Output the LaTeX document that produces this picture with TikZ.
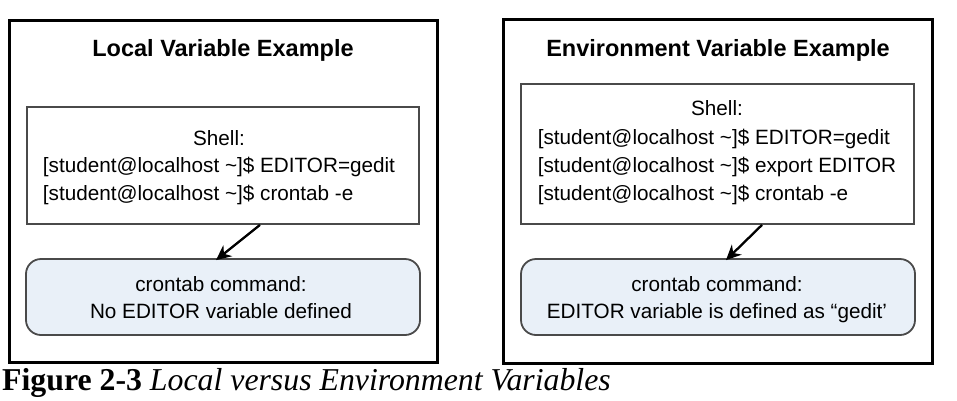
\documentclass[tikz,border=0pt]{standalone}
\usepackage{fontspec}
\setmainfont{Liberation Sans}
\newfontfamily\capfont{Liberation Serif}
\usetikzlibrary{arrows.meta,calc}

\definecolor{cronfill}{HTML}{E9F0F8}
\definecolor{boxline}{HTML}{4A4A4A}

\tikzset{
  panel/.style={draw=black, line width=3pt, inner sep=0pt},
  shellbox/.style={draw=boxline, line width=1.8pt, inner sep=0pt},
  cronbox/.style={draw=boxline, line width=1.8pt, fill=cronfill, rounded corners=15pt,
    minimum width=394pt, minimum height=76pt, inner sep=0pt},
  paneltitle/.style={font=\fontsize{23.5}{28}\selectfont\bfseries, inner sep=0pt},
  boxtext/.style={inner sep=0pt},
  flow/.style={draw=black, line width=2.3pt, -{Stealth[length=15pt,width=14pt]}}
}

% shell prompt as typed in the terminal
\newcommand{\userprompt}{{[}student@localhost \char`\~{]}\$}
\newcommand{\shelllines}[2]{%
  \fontsize{20.7}{#1}\selectfont
  \begin{tabular}{@{}l@{}}\multicolumn{1}{@{}c@{}}{Shell:}\\#2\end{tabular}}
\newcommand{\cronlines}[1]{%
  \fontsize{20.7}{27}\selectfont
  \begin{tabular}{@{}c@{}}crontab command:\\#1\end{tabular}}

\begin{document}
\begin{tikzpicture}[x=1pt, y=-1pt]
  \useasboundingbox (0,0) rectangle (957,400);
  \fill[white] (0,0) rectangle (957,400);

  % left panel: local variable
  \node[panel, minimum width=428pt, minimum height=342pt] (panelL) at (223,191) {};
  \node[paneltitle] (titleL) at (223,50) {Local Variable Example};
  \node[shellbox, minimum width=392pt, minimum height=117pt] (shellL) at (223,165.5) {};
  \node[boxtext] (shelltxtL) at (219,167) {\shelllines{27.5}{%
    \userprompt{} EDITOR=gedit\\
    \userprompt{} crontab -e}};
  \node[cronbox] (cronL) at (223,297) {};
  \node[boxtext] (crontxtL) at (221,299.5) {\cronlines{No EDITOR variable defined}};
  \draw[flow] ($(shellL.south)+(37,0)$) -- ($(cronL.north)+(-7,2)$);

  % right panel: environment variable
  \node[panel, minimum width=429pt, minimum height=344pt] (panelR) at (717.5,191) {};
  \node[paneltitle] (titleR) at (718,50) {Environment Variable Example};
  \node[shellbox, minimum width=393pt, minimum height=140pt] (shellR) at (717.5,154) {};
  \node[boxtext] (shelltxtR) at (717,152.5) {\shelllines{28.3}{%
    \userprompt{} EDITOR=gedit\\
    \userprompt{} export EDITOR\\
    \userprompt{} crontab -e}};
  \node[cronbox] (cronR) at (718,297) {};
  \node[boxtext] (crontxtR) at (717,299.5) {\cronlines{EDITOR variable is defined as “gedit’}};
  \draw[flow] ($(shellR.south)+(44.5,0)$) -- ($(cronR.north)+(8,2)$);

  % caption
  \node[anchor=base west, inner sep=0pt, font=\capfont\fontsize{31.8}{36}\selectfont] (caption)
    at (2,390) {\textbf{Figure 2-3} \textit{Local versus Environment Variables}};
\end{tikzpicture}
\end{document}
